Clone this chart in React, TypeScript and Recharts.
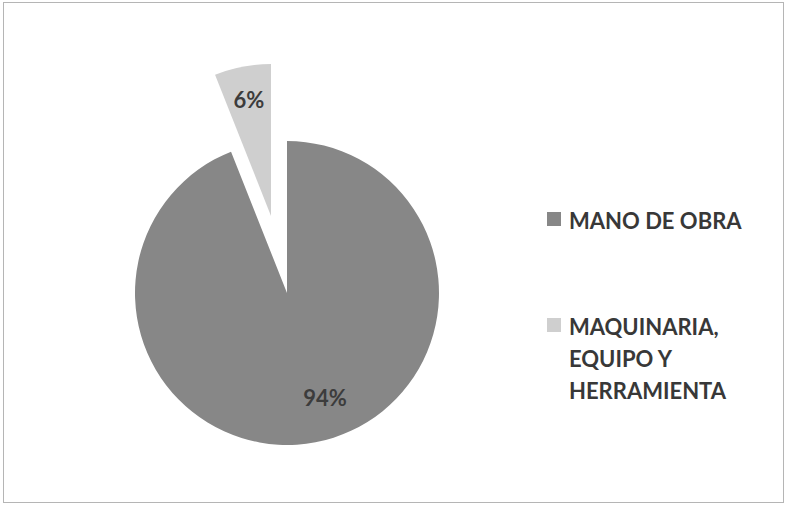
import React from "react";
import { PieChart, Pie, Cell, Legend } from "recharts";

const categories = ["MANO DE OBRA", "MAQUINARIA, EQUIPO Y HERRAMIENTA"];
const shares = [94, 6];
const legendLines = [["MANO DE OBRA"], ["MAQUINARIA,", "EQUIPO Y", "HERRAMIENTA"]];

const sliceColors = ["#878787", "#cfcfcf"];
const labelRadius = [0.7, 0.78];
const labelNudgeX = [18, 0];
const RAD = Math.PI / 180;
const FONT = "Lato, 'Open Sans', sans-serif";

const data = categories.map((name, i) => ({ name, value: shares[i] }));

// each Pie only paints one slice, so the small one can sit exploded
const makeLabel = (which: number) => (props: any) => {
  const { cx, cy, midAngle, outerRadius, percent, index } = props;
  if (index !== which) return null;
  const r = outerRadius * labelRadius[index];
  const x = cx + r * Math.cos(-midAngle * RAD) + labelNudgeX[index];
  const y = cy + r * Math.sin(-midAngle * RAD);
  return (
    <text
      x={x}
      y={y}
      textAnchor="middle"
      dominantBaseline="central"
      fill="#3c3c3c"
      fontSize={22}
      fontWeight={700}
      fontFamily={FONT}
    >
      {`${Math.round(percent * 100)}%`}
    </text>
  );
};

function LegendBox() {
  return (
    <div style={{ fontFamily: FONT, fontWeight: 700, fontSize: 22, color: "#383838" }}>
      {legendLines.map((lines, i) => (
        <div key={categories[i]} style={{ display: "flex", alignItems: "flex-start", marginBottom: i === 0 ? 74 : 0 }}>
          <span
            style={{
              width: 14,
              height: 14,
              background: sliceColors[i],
              marginTop: 7,
              marginRight: 8,
              flexShrink: 0,
            }}
          />
          <div style={{ lineHeight: "32px" }}>
            {lines.map((l) => (
              <div key={l}>{l}</div>
            ))}
          </div>
        </div>
      ))}
    </div>
  );
}

export default function App() {
  return (
    <div style={{ position: "absolute", left: 0, top: 0, width: 788, height: 506, background: "#fff" }}>
      <PieChart width={788} height={506} margin={{ top: 0, right: 0, bottom: 0, left: 0 }}>
        <Pie
          data={data}
          dataKey="value"
          cx={287}
          cy={293}
          outerRadius={152}
          startAngle={90}
          endAngle={-270}
          stroke="none"
          labelLine={false}
          label={makeLabel(0)}
          isAnimationActive={false}
        >
          {data.map((d, i) => (
            <Cell key={d.name} fill={i === 0 ? sliceColors[0] : "transparent"} />
          ))}
        </Pie>
        <Pie
          data={data}
          dataKey="value"
          cx={271}
          cy={216}
          outerRadius={152}
          startAngle={90}
          endAngle={-270}
          stroke="none"
          labelLine={false}
          label={makeLabel(1)}
          isAnimationActive={false}
        >
          {data.map((d, i) => (
            <Cell key={d.name} fill={i === 1 ? sliceColors[1] : "transparent"} />
          ))}
        </Pie>
        <Legend
          layout="vertical"
          align="right"
          verticalAlign="top"
          content={() => <LegendBox />}
          wrapperStyle={{ left: 547, top: 205, width: 230 }}
        />
      </PieChart>
      <div
        style={{
          position: "absolute",
          left: 3,
          top: 2,
          width: 779,
          height: 499,
          border: "1px solid #b5b5b5",
          pointerEvents: "none",
        }}
      />
    </div>
  );
}
